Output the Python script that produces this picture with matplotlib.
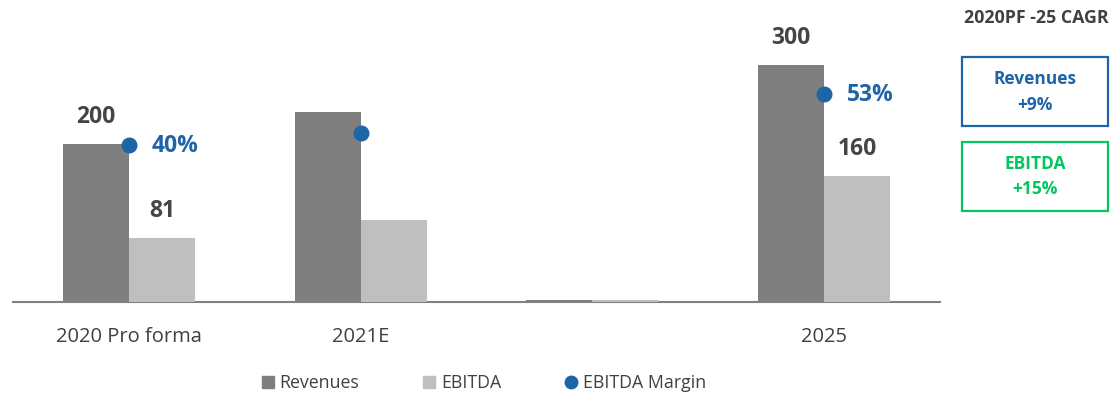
import numpy as np
import matplotlib
matplotlib.use("Agg")
import matplotlib.pyplot as plt
from matplotlib.lines import Line2D
from matplotlib.patches import Rectangle

plt.rcParams['font.family'] = ['Open Sans', 'DejaVu Sans']

# Data
categories = ["2020 Pro forma", "2021E", "", "2025"]
revenues = [200, 240, 2.5, 300]
ebitda = [81, 104, 2, 160]
margin = [40, 43, np.nan, 53]
rev_labels = ["200", None, None, "300"]
ebitda_labels = ["81", None, None, "160"]
margin_labels = ["40%", None, None, "53%"]
cagr_title = "2020PF -25 CAGR"
cagr_boxes = [("Revenues\n+9%", "#1F64A6"), ("EBITDA\n+15%", "#00C85F")]

REV_C = "#7F7F7F"
EBT_C = "#BFBFBF"
DOT_C = "#1F64A6"
TXT_C = "#454545"

W, H = 1115, 395
fig = plt.figure(figsize=(W / 100, H / 100), dpi=100)

def fx(px):
    return px / W

def fy(py):
    return 1 - py / H

ax = fig.add_axes([fx(13), fy(302), fx(940) - fx(13), fy(20) - fy(302)])
x = np.arange(len(categories))
w = 0.285

ax.bar(x - w / 2, revenues, w, color=REV_C, zorder=3)
ax.bar(x + w / 2, ebitda, w, color=EBT_C, zorder=3)
ax.set_xlim(-0.5, len(categories) - 0.5)
ax.set_ylim(0, 357)

for i, lab in enumerate(rev_labels):
    if lab:
        ax.annotate(lab, (x[i] - w / 2, revenues[i]), xytext=(0, 19.5),
                    textcoords="offset points", ha="center", va="center",
                    fontsize=16.5, fontweight="bold", color=TXT_C)
for i, lab in enumerate(ebitda_labels):
    if lab:
        ax.annotate(lab, (x[i] + w / 2, ebitda[i]), xytext=(0, 19.5),
                    textcoords="offset points", ha="center", va="center",
                    fontsize=16.5, fontweight="bold", color=TXT_C)

for s in ["top", "right", "left"]:
    ax.spines[s].set_visible(False)
ax.spines["bottom"].set_color("#808080")
ax.spines["bottom"].set_linewidth(1.5)
ax.spines["bottom"].set_zorder(2)
ax.set_yticks([])
ax.set_xticks(x)
ax.set_xticklabels(categories, fontsize=14.5, color="#404040")
ax.tick_params(axis="x", length=0, pad=18)

# EBITDA margin on a secondary scale
ax2 = ax.twinx()
ax2.set_ylim(0, 71.8)
ax2.plot(x, margin, linestyle="none", marker="o", markersize=10.5,
         color=DOT_C, zorder=3)
for i, lab in enumerate(margin_labels):
    if lab:
        ax2.annotate(lab, (x[i], margin[i]), xytext=(16.5, -0.5),
                     textcoords="offset points", ha="left", va="center",
                     fontsize=16.5, fontweight="bold", color=DOT_C)
ax2.set_yticks([])
for s in ax2.spines.values():
    s.set_visible(False)

# Legend
handles = [
    Line2D([], [], marker="s", linestyle="none", color=REV_C, markersize=9),
    Line2D([], [], marker="s", linestyle="none", color=EBT_C, markersize=9),
    Line2D([], [], marker="o", linestyle="none", color=DOT_C, markersize=9),
]
fig.legend(handles, ["Revenues", "EBITDA", "EBITDA Margin"], loc="center",
           bbox_to_anchor=(fx(484), fy(383)), ncol=3, frameon=False,
           fontsize=12.8, handlelength=0.7, handletextpad=0.3,
           columnspacing=3.6, labelcolor="#404040")

# CAGR panel
fig.text(fx(1036), fy(18), cagr_title, ha="center", va="center",
         fontsize=12.8, fontweight="bold", color="#404040")
box_tops = [57, 142]
for (txt, col), top in zip(cagr_boxes, box_tops):
    rect = Rectangle((fx(962), fy(top + 69)), fx(1108) - fx(962),
                     fy(top) - fy(top + 69), transform=fig.transFigure,
                     fill=False, edgecolor=col, linewidth=1.6)
    fig.add_artist(rect)
    fig.text(fx(1035), fy(top + 35), txt, ha="center", va="center",
             fontsize=12.5, fontweight="bold", color=col, linespacing=1.5)

fig.savefig("out.png", dpi=100)
